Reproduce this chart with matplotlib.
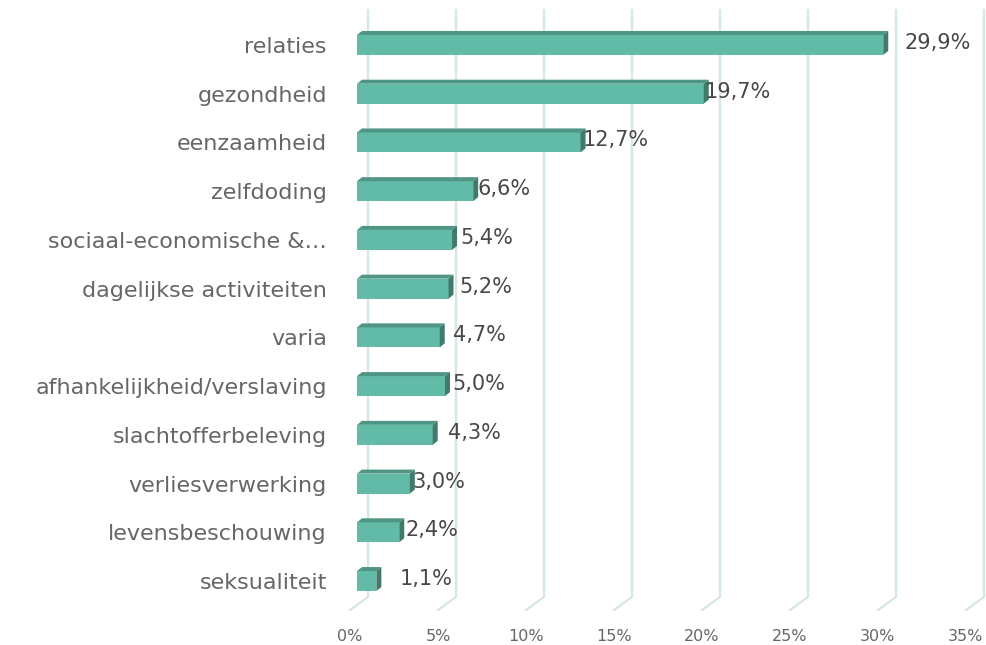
import matplotlib
matplotlib.use("Agg")
import matplotlib.pyplot as plt
from matplotlib.lines import Line2D
from matplotlib.patches import Polygon
from matplotlib.transforms import ScaledTranslation

categories = ["relaties", "gezondheid", "eenzaamheid", "zelfdoding",
              "sociaal-economische &…", "dagelijkse activiteiten", "varia",
              "afhankelijkheid/verslaving", "slachtofferbeleving",
              "verliesverwerking", "levensbeschouwing", "seksualiteit"]
values = [29.9, 19.7, 12.7, 6.6, 5.4, 5.2, 4.7, 5.0, 4.3, 3.0, 2.4, 1.1]
value_labels = ["29,9%", "19,7%", "12,7%", "6,6%", "5,4%", "5,2%",
                "4,7%", "5,0%", "4,3%", "3,0%", "2,4%", "1,1%"]
xticks = [0, 5, 10, 15, 20, 25, 30, 35]
xtick_labels = ["0%", "5%", "10%", "15%", "20%", "25%", "30%", "35%"]

# pixel nudges of the value labels, as Excel placed them
label_nudge = [16, -4, -3, -1, 3, 6, 8, 2, 10, -2, 1, 18]

FRONT = "#62bba7"
TOP = "#4f9584"
SIDE = "#3f7a6b"
GRID = "#d4e7e1"
TEXT = "#666666"
VALTEXT = "#484848"

plt.rcParams['font.family'] = ['DejaVu Sans']

W, H = 986, 645
fig = plt.figure(figsize=(W / 100, H / 100), dpi=100)
ax = fig.add_axes([357 / W, (H - 605.4) / H, 616 / W, 584.8 / H])
ax.patch.set_visible(False)
ax.set_xlim(0, 35)
ax.set_ylim(len(categories) - 0.5, -0.5)
for s in ax.spines.values():
    s.set_visible(False)

to_fig = fig.transFigure.inverted()


def shift(x, y, dx, dy):
    # move a data point by some pixels, return data coords
    px, py = ax.transData.transform((x, y))
    return ax.transData.inverted().transform((px + dx, py + dy))


# gridlines with the 3D floor
for t in xticks:
    x0 = ax.transData.transform((t, 0))[0]
    pts = [(x0 + 11, H - 10), (x0 + 11, H - 597), (x0 - 7, H - 610)]
    pts = to_fig.transform(pts)
    fig.add_artist(Line2D(pts[:, 0], pts[:, 1], color=GRID, lw=1.6,
                          transform=fig.transFigure, zorder=0))

h = 0.41
ypos = list(range(len(categories)))
ax.barh(ypos, values, height=h, color=FRONT, zorder=3)
for y, v, lab, nd in zip(ypos, values, value_labels, label_nudge):
    top = y - h / 2
    bot = y + h / 2
    top_face = [(0, top), (v, top), tuple(shift(v, top, 5, 4)), tuple(shift(0, top, 5, 4))]
    side_face = [(v, top), (v, bot), tuple(shift(v, bot, 5, 4)), tuple(shift(v, top, 5, 4))]
    ax.add_patch(Polygon(top_face, closed=True, color=TOP, lw=0, zorder=3))
    ax.add_patch(Polygon(side_face, closed=True, color=SIDE, lw=0, zorder=3))
    lx, ly = shift(v, y, 5 + nd, 2)
    ax.text(lx, ly, lab, ha="left", va="center", fontsize=15,
            color=VALTEXT, clip_on=False, zorder=4)

ax.set_yticks(ypos)
ax.set_yticklabels(categories, fontsize=16, color=TEXT)
ax.set_xticks(xticks)
ax.set_xticklabels(xtick_labels, fontsize=11.5, color=TEXT)
ax.tick_params(axis="y", length=0, pad=21.6)
ax.tick_params(axis="x", length=0, pad=17)
for lab in ax.get_xticklabels():
    lab.set_transform(lab.get_transform() + ScaledTranslation(-7 / 100, 0, fig.dpi_scale_trans))

fig.savefig("out.png", dpi=100, facecolor="white")
